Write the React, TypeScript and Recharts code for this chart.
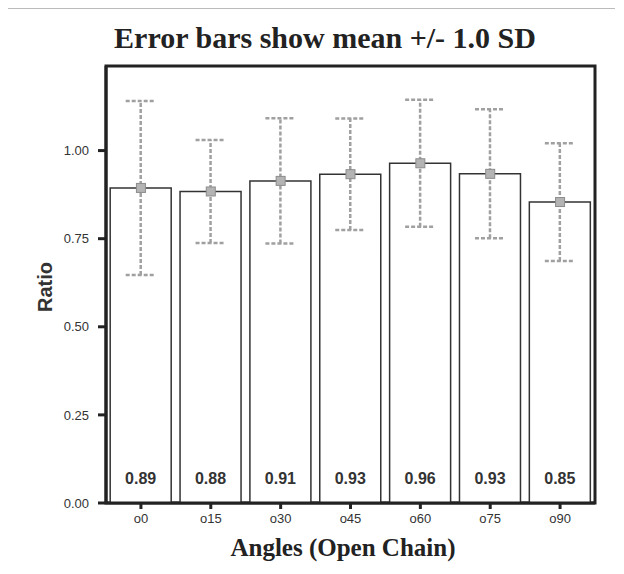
import React from 'react';
import { ComposedChart, Bar, Scatter, ErrorBar, LabelList, XAxis, YAxis, ReferenceArea } from 'recharts';

// values
const angles = ['o0', 'o15', 'o30', 'o45', 'o60', 'o75', 'o90'];
const means = [0.894, 0.884, 0.914, 0.933, 0.964, 0.934, 0.854];
const sds = [0.247, 0.146, 0.178, 0.158, 0.18, 0.183, 0.167];
const yTicks = [0, 0.25, 0.5, 0.75, 1.0];

const data = angles.map((angle, i) => ({ angle, mean: means[i], sd: sds[i] }));

const SERIF = '"Liberation Serif", "Times New Roman", serif';
const SANS = '"Liberation Sans", Arial, sans-serif';
const FRAME = '#222';

const renderValueLabel = (props: any) => {
  const { x, y, width, height, value } = props;
  return (
    <text
      x={x + width / 2}
      y={y + height - 19}
      textAnchor="middle"
      fontFamily={SANS}
      fontWeight="bold"
      fontSize={16}
      fill="#333"
    >
      {Number(value).toFixed(2)}
    </text>
  );
};

const renderMeanMarker = (props: any) => {
  const { cx, cy } = props;
  if (cx == null || cy == null) return <g />;
  return <rect x={cx - 4.5} y={cy - 4.5} width={9} height={9} fill="#b4b4b4" stroke="#8c8c8c" strokeWidth={1} />;
};

export default function App() {
  return (
    <div
      style={{
        position: 'relative',
        width: 610,
        height: 556,
        marginLeft: -4,
        borderTop: '1px solid #bbb',
        borderLeft: '1px solid #bbb',
        background: '#fff',
      }}
    >
      <div
        style={{
          position: 'absolute',
          left: 0,
          width: 640,
          top: 14,
          textAlign: 'center',
          fontFamily: SERIF,
          fontWeight: 'bold',
          fontSize: 30,
          lineHeight: '30px',
          color: '#222',
        }}
      >
        Error bars show mean +/- 1.0 SD
      </div>

      <ComposedChart
        width={610}
        height={556}
        data={data}
        margin={{ top: 57, right: 20, left: 41, bottom: 32 }}
        barCategoryGap="6%"
      >
        <XAxis
          dataKey="angle"
          height={30}
          tickSize={6}
          tickMargin={5}
          tick={{ fontSize: 13, fill: '#333', fontFamily: SANS }}
          tickLine={{ stroke: FRAME, strokeWidth: 3 }}
          axisLine={{ stroke: FRAME, strokeWidth: 3 }}
        />
        <YAxis
          type="number"
          domain={[0, 1.24]}
          ticks={yTicks}
          allowDataOverflow
          width={60}
          tickSize={8}
          tickMargin={9}
          tickFormatter={(v: number) => v.toFixed(2)}
          tick={{ fontSize: 13, fill: '#333', fontFamily: SANS }}
          tickLine={{ stroke: FRAME, strokeWidth: 3 }}
          axisLine={{ stroke: FRAME, strokeWidth: 3 }}
        />
        <Bar dataKey="mean" fill="#fff" stroke="#333" strokeWidth={1.5} isAnimationActive={false}>
          <LabelList dataKey="mean" content={renderValueLabel} />
          <ErrorBar
            dataKey="sd"
            width={15}
            stroke="#a0a0a0"
            strokeWidth={2.5}
            strokeDasharray="4 2"
            isAnimationActive={false}
          />
        </Bar>
        <Scatter dataKey="mean" shape={renderMeanMarker} isAnimationActive={false} />
        <ReferenceArea y1={0} y2={1.24} fill="none" stroke={FRAME} strokeWidth={3} ifOverflow="visible" />
      </ComposedChart>

      <div
        style={{
          position: 'absolute',
          left: -10,
          width: 100,
          top: 266,
          height: 24,
          lineHeight: '24px',
          textAlign: 'center',
          transform: 'rotate(-90deg)',
          fontFamily: SANS,
          fontWeight: 'bold',
          fontSize: 20,
          color: '#333',
        }}
      >
        Ratio
      </div>

      <div
        style={{
          position: 'absolute',
          left: 138,
          width: 400,
          top: 526,
          textAlign: 'center',
          fontFamily: SERIF,
          fontWeight: 'bold',
          fontSize: 25,
          lineHeight: '25px',
          color: '#222',
        }}
      >
        Angles (Open Chain)
      </div>
    </div>
  );
}
